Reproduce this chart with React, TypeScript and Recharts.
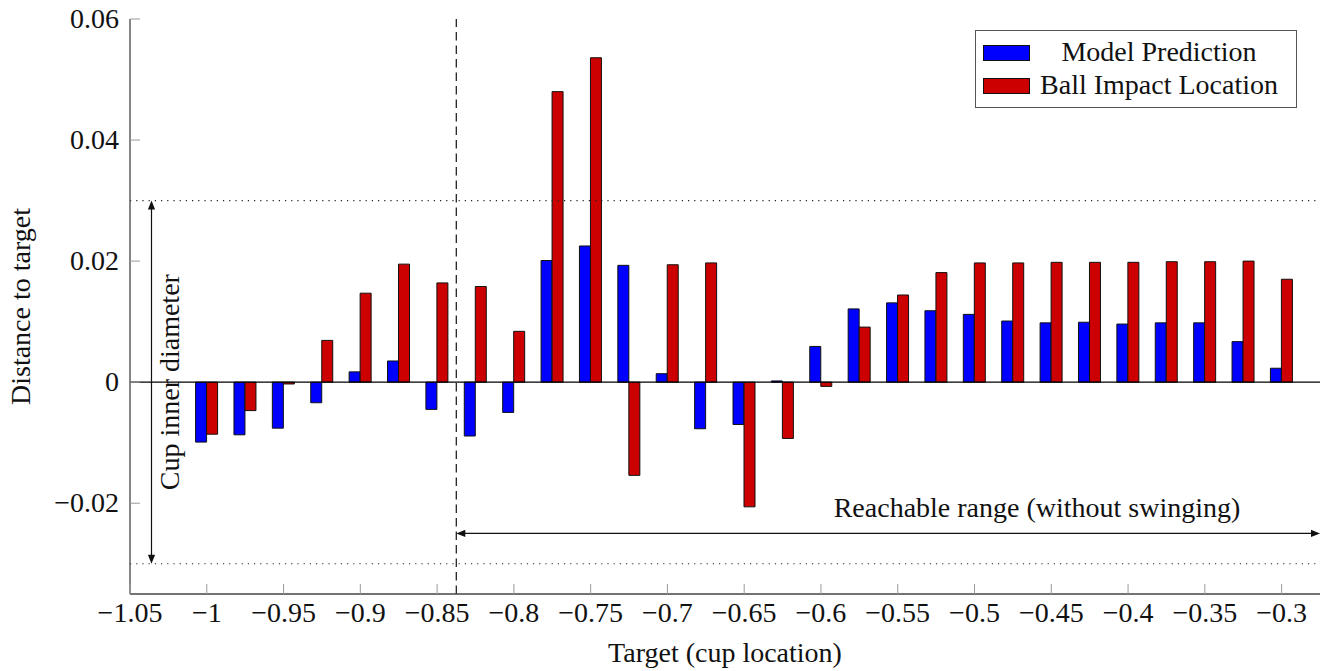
import React from 'react';
import { BarChart, Bar, XAxis, YAxis, ReferenceLine, Legend } from 'recharts';

const FONT = "'Liberation Serif', 'DejaVu Serif', serif";
const FONT_SIZE = 28;

// cup target positions
const targets = [
  -1, -0.975, -0.95, -0.925, -0.9, -0.875, -0.85, -0.825, -0.8, -0.775,
  -0.75, -0.725, -0.7, -0.675, -0.65, -0.625, -0.6, -0.575, -0.55, -0.525,
  -0.5, -0.475, -0.45, -0.425, -0.4, -0.375, -0.35, -0.325, -0.3,
];

const modelPrediction = [
  -0.0099, -0.0087, -0.0076, -0.0034, 0.0017, 0.0035, -0.0045, -0.0089, -0.005, 0.0201,
  0.0225, 0.0193, 0.0014, -0.0077, -0.007, 0.0002, 0.0059, 0.0121, 0.0131, 0.0118,
  0.0112, 0.0101, 0.0098, 0.0099, 0.0096, 0.0098, 0.0098, 0.0067, 0.0023,
];

const ballImpact = [
  -0.0086, -0.0047, -0.0003, 0.0069, 0.0147, 0.0195, 0.0164, 0.0158, 0.0084, 0.048,
  0.0536, -0.0154, 0.0194, 0.0197, -0.0206, -0.0093, -0.0007, 0.0091, 0.0144, 0.0181,
  0.0197, 0.0197, 0.0198, 0.0198, 0.0198, 0.0199, 0.0199, 0.02, 0.017,
];

const xTicks = [
  -1.05, -1, -0.95, -0.9, -0.85, -0.8, -0.75, -0.7, -0.65, -0.6,
  -0.55, -0.5, -0.45, -0.4, -0.35, -0.3,
];
const yTicks = [-0.02, 0, 0.02, 0.04, 0.06];

const xDomain = [-1.05, -0.275];
const yDomain = [-0.035, 0.06];

const cupHalf = 0.03;
const reachStart = -0.8375;
const reachY = -0.025;
const cupArrowX = -1.036;

const data = targets.map((t, i) => ({
  target: t,
  model: modelPrediction[i],
  ball: ballImpact[i],
}));

const fmt = (v: number) => (v === 0 ? '0' : (v < 0 ? '\u2212' : '') + String(Math.abs(v)));

const TICK_COLOR = '#9a9a9a';
const AXIS_STYLE = { stroke: '#444', strokeWidth: 1.3 };
const textStyle = { fontFamily: FONT, fontSize: FONT_SIZE };

const head = (tx: number, ty: number, dx: number, dy: number) => {
  const len = 9;
  const half = 3.6;
  const bx = tx - dx * len;
  const by = ty - dy * len;
  return `${tx},${ty} ${bx - dy * half},${by + dx * half} ${bx + dy * half},${by - dx * half}`;
};

const BottomTick = (p: any) => (
  <g>
    <line x1={p.x} y1={p.y} x2={p.x} y2={p.y - 10} stroke={TICK_COLOR} strokeWidth={1} />
    <text x={p.x} y={p.y + 28} textAnchor="middle" style={textStyle} fill="#111">
      {fmt(p.payload.value)}
    </text>
  </g>
);

const TopTick = (p: any) => (
  <line x1={p.x} y1={p.y} x2={p.x} y2={p.y + 10} stroke={TICK_COLOR} strokeWidth={1} />
);

const LeftTick = (p: any) => (
  <g>
    <line x1={p.x} y1={p.y} x2={p.x + 10} y2={p.y} stroke={TICK_COLOR} strokeWidth={1} />
    <text x={p.x - 11} y={p.y + 9} textAnchor="end" style={textStyle} fill="#111">
      {fmt(p.payload.value)}
    </text>
  </g>
);

const RightTick = (p: any) => (
  <line x1={p.x} y1={p.y} x2={p.x - 10} y2={p.y} stroke={TICK_COLOR} strokeWidth={1} />
);

const CupArrow = (p: any) => {
  const { x1, y1, x2, y2 } = p;
  const mid = (y1 + y2) / 2;
  return (
    <g>
      <line x1={x1} y1={y1 + 8} x2={x2} y2={y2 - 8} stroke="#111" strokeWidth={1.2} />
      <polygon points={head(x1, y1, 0, -1)} fill="#111" />
      <polygon points={head(x2, y2, 0, 1)} fill="#111" />
      <text
        x={x1 + 28}
        y={mid}
        transform={`rotate(-90 ${x1 + 28} ${mid})`}
        textAnchor="middle"
        style={textStyle}
        fill="#111"
      >
        Cup inner diameter
      </text>
    </g>
  );
};

const ReachArrow = (p: any) => {
  const { x1, y1, x2, y2 } = p;
  return (
    <g>
      <line x1={x1 + 8} y1={y1} x2={x2 - 8} y2={y2} stroke="#111" strokeWidth={1.2} />
      <polygon points={head(x1, y1, -1, 0)} fill="#111" />
      <polygon points={head(x2, y2, 1, 0)} fill="#111" />
      <text x={x2 - 283} y={y1 - 16} textAnchor="middle" style={textStyle} fill="#111">
        Reachable range (without swinging)
      </text>
    </g>
  );
};

const LegendBox = () => (
  <svg width={322} height={78} style={{ display: 'block' }}>
    <rect x={0.5} y={0.5} width={321} height={77} fill="#fff" stroke="#555" strokeWidth={1} />
    <rect x={8.5} y={15.5} width={46} height={15} fill="#0000ff" stroke="#111" strokeWidth={1} />
    <rect x={8.5} y={48.5} width={46} height={15} fill="#cc0000" stroke="#111" strokeWidth={1} />
    <text x={184} y={31} textAnchor="middle" style={textStyle} fill="#111">
      Model Prediction
    </text>
    <text x={184} y={64} textAnchor="middle" style={textStyle} fill="#111">
      Ball Impact Location
    </text>
  </svg>
);

export default function App() {
  return (
    <div
      style={{
        position: 'absolute',
        left: 0,
        top: 0,
        width: 1330,
        height: 671,
        background: '#fff',
        fontFamily: FONT,
      }}
    >
      <BarChart
        width={1330}
        height={671}
        data={data}
        margin={{ top: 19, right: 10, bottom: 0, left: 0 }}
        barGap={0}
      >
        <XAxis
          dataKey="target"
          type="number"
          domain={xDomain}
          allowDataOverflow
          ticks={xTicks}
          interval={0}
          height={77}
          tickSize={0}
          tickMargin={0}
          tickLine={false}
          axisLine={AXIS_STYLE}
          tick={(p: any) => <BottomTick {...p} />}
          label={(p: any) => {
            const vb = p.viewBox;
            return (
              <text x={vb.x + vb.width / 2} y={vb.y + 68} textAnchor="middle" style={textStyle} fill="#111">
                Target (cup location)
              </text>
            );
          }}
        />
        <XAxis
          xAxisId="top"
          orientation="top"
          type="number"
          domain={xDomain}
          allowDataOverflow
          ticks={xTicks}
          interval={0}
          height={0}
          tickSize={0}
          tickMargin={0}
          tickLine={false}
          axisLine={AXIS_STYLE}
          tick={(p: any) => <TopTick {...p} />}
        />
        <YAxis
          type="number"
          domain={yDomain}
          allowDataOverflow
          ticks={yTicks}
          interval={0}
          width={130}
          tickSize={0}
          tickMargin={0}
          tickLine={false}
          axisLine={AXIS_STYLE}
          tick={(p: any) => <LeftTick {...p} />}
          label={(p: any) => {
            const vb = p.viewBox;
            const cy = vb.y + vb.height / 2;
            return (
              <text
                x={30}
                y={cy}
                transform={`rotate(-90 30 ${cy})`}
                textAnchor="middle"
                style={textStyle}
                fill="#111"
              >
                Distance to target
              </text>
            );
          }}
        />
        <YAxis
          yAxisId="right"
          orientation="right"
          type="number"
          domain={yDomain}
          allowDataOverflow
          ticks={yTicks}
          interval={0}
          width={0}
          tickSize={0}
          tickMargin={0}
          tickLine={false}
          axisLine={AXIS_STYLE}
          tick={(p: any) => <RightTick {...p} />}
        />
        <Legend
          layout="horizontal"
          verticalAlign="middle"
          align="center"
          wrapperStyle={{ left: 975, top: 30, width: 322, height: 78 }}
          content={() => <LegendBox />}
        />
        <Bar dataKey="model" name="Model Prediction" fill="#0000ff" stroke="#111" strokeWidth={1} barSize={11} isAnimationActive={false} />
        <Bar dataKey="ball" name="Ball Impact Location" fill="#cc0000" stroke="#111" strokeWidth={1} barSize={11} isAnimationActive={false} />
        <ReferenceLine y={0} stroke="#000" strokeWidth={1.4} />
        <ReferenceLine y={cupHalf} stroke="#222" strokeWidth={1.1} strokeDasharray="1.2 5" />
        <ReferenceLine y={-cupHalf} stroke="#222" strokeWidth={1.1} strokeDasharray="1.2 5" />
        <ReferenceLine x={reachStart} stroke="#111" strokeWidth={1.2} strokeDasharray="8.5 5" />
        <ReferenceLine
          segment={[
            { x: cupArrowX, y: cupHalf },
            { x: cupArrowX, y: -cupHalf },
          ]}
          ifOverflow="visible"
          shape={(p: any) => <CupArrow {...p} />}
        />
        <ReferenceLine
          segment={[
            { x: reachStart, y: reachY },
            { x: xDomain[1], y: reachY },
          ]}
          ifOverflow="visible"
          shape={(p: any) => <ReachArrow {...p} />}
        />
      </BarChart>
    </div>
  );
}
